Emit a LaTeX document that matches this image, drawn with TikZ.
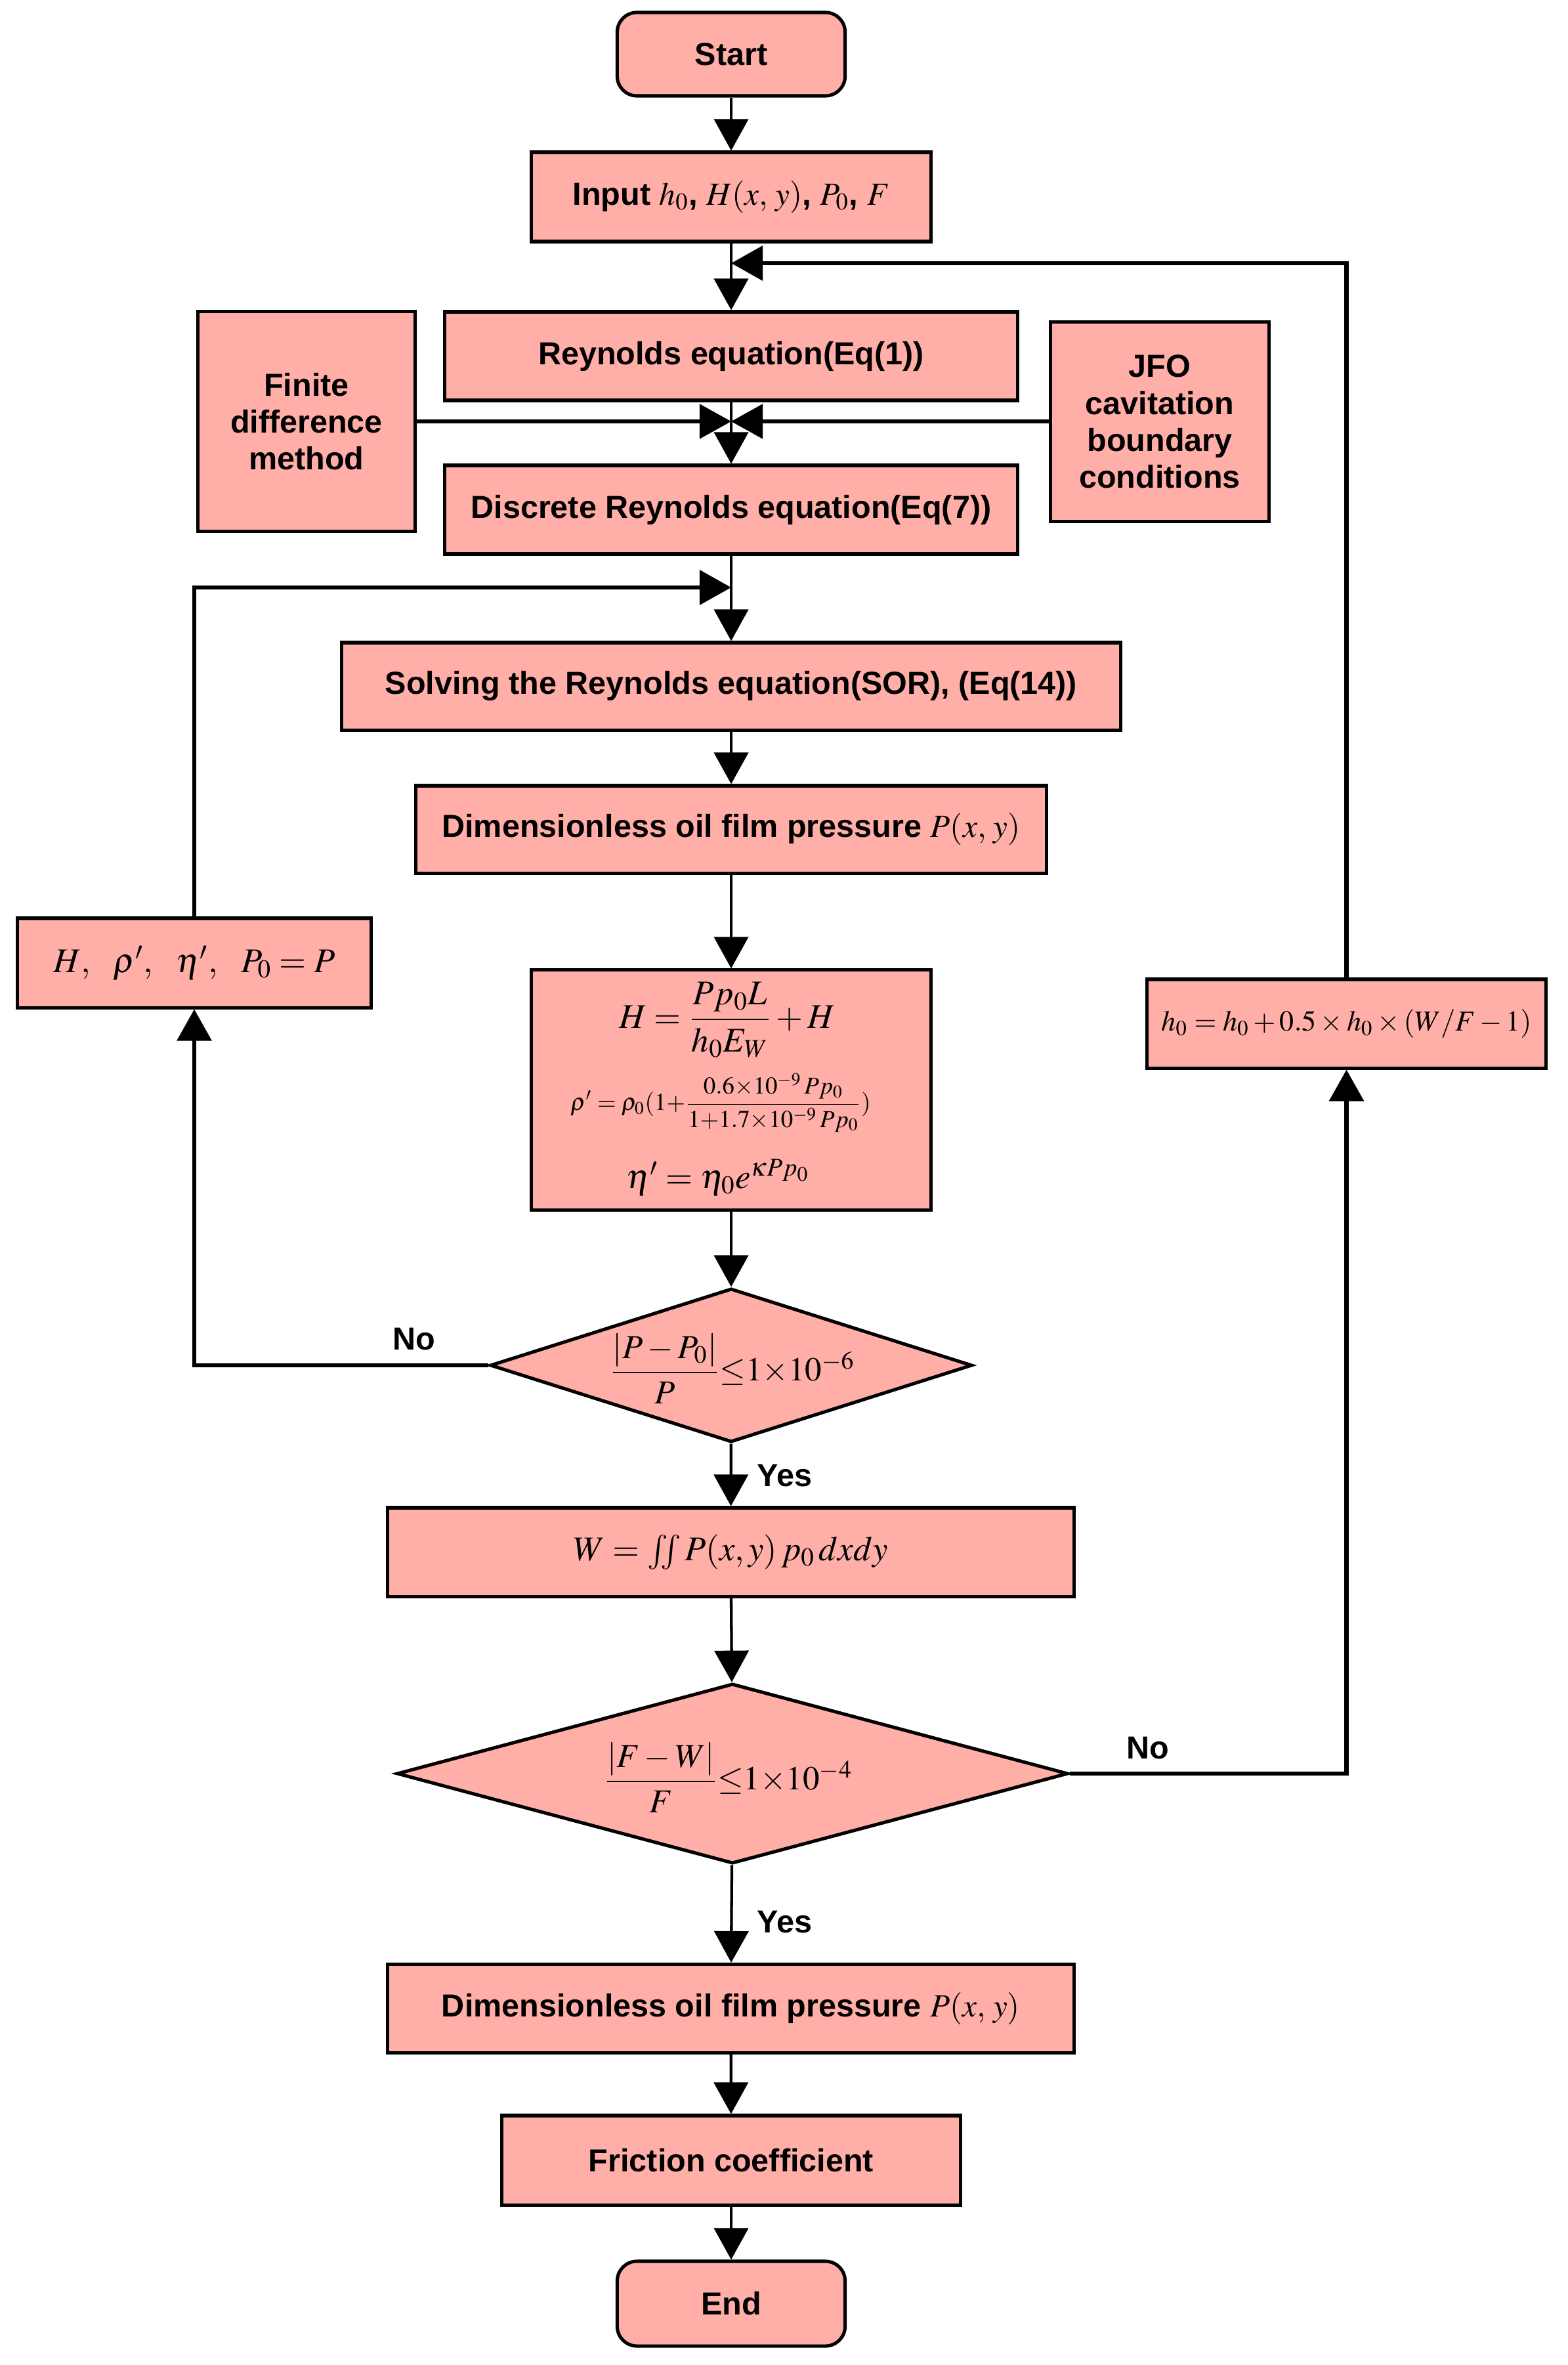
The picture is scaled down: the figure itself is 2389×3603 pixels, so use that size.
\documentclass[tikz,border=0pt]{standalone}
\usepackage{amsmath}
\usepackage{mathptmx}
\usepackage[no-math]{fontspec}
\setmainfont{Liberation Sans}
\usetikzlibrary{arrows.meta,shapes.geometric}
\definecolor{boxpink}{RGB}{255,175,168}
\newcommand\txtfont{\fontsize{13.8}{16}\selectfont\bfseries}
\newcommand\mfont{\fontsize{14}{17}\selectfont}
\begin{document}
\begin{tikzpicture}[x=0.01cm,y=-0.01cm,
  box/.style={draw=black, fill=boxpink, line width=1.45pt, inner sep=0pt, align=center, font=\txtfont},
  term/.style={box, rounded corners=0.3cm},
  dec/.style={box, diamond, inner sep=0pt},
  plain/.style={inner sep=0pt, align=center},
  lbl/.style={inner sep=0pt, font=\txtfont},
  tip/.style={-{Triangle[length=0.48cm,width=0.52cm]}},
  conn/.style={line width=1.22pt, tip},
  side/.style={line width=1.45pt, tip},
  fb/.style={line width=1.9pt, tip}]
\useasboundingbox (0,0) rectangle (2389,3603);

% main column
\node[term, minimum width=3.47cm, minimum height=1.27cm] (start) at (1114,82.5) {Start};
\node[box, minimum width=6.09cm, minimum height=1.36cm] (input) at (1114,300) {Input {\mfont$h_0$, $H(x,\,y)$, $P_0$, $F$}};
\node[box, minimum width=8.72cm, minimum height=1.35cm] (reyn) at (1114,542.5) {Reynolds equation(Eq(1))};
\node[box, minimum width=3.30cm, minimum height=3.34cm] (fdm) at (467,642) {Finite\\difference\\method};
\node[box, minimum width=3.32cm, minimum height=3.03cm] (jfo) at (1767,642.5) {JFO\\cavitation\\boundary\\conditions};
\node[box, minimum width=8.72cm, minimum height=1.35cm] (disc) at (1114,776.5) {Discrete Reynolds equation(Eq(7))};
\node[box, minimum width=11.86cm, minimum height=1.33cm] (solve) at (1114,1045.5) {Solving the Reynolds equation(SOR), (Eq(14))};
\node[box, minimum width=9.60cm, minimum height=1.33cm] (dim1) at (1114,1263.5) {Dimensionless oil film pressure {\mfont$P(x,\,y)$}};
\node[box, minimum width=5.38cm, minimum height=1.36cm] (hbox) at (296,1467) {\fontsize{15}{18}\selectfont$H,\ \ \rho',\ \ \eta',\ \ P_0=P$};
\node[box, minimum width=6.09cm, minimum height=3.65cm] (form) at (1114,1660.5) {};
\node[plain] (f1) at (1108,1554) {\fontsize{15}{18}\selectfont$\displaystyle H=\frac{Pp_0L}{h_0E_W}+H$};
\node[plain] (f2) at (1098,1680) {\fontsize{10.5}{13}\selectfont$\displaystyle \rho'=\rho_0(1{+}\frac{0.6{\times}10^{-9}\,Pp_0}{1{+}1.7{\times}10^{-9}\,Pp_0})$};
\node[plain] (f3) at (1094,1794) {\fontsize{15}{18}\selectfont$\eta'=\eta_0e^{\kappa Pp_0}$};
\node[box, minimum width=6.07cm, minimum height=1.35cm] (h0box) at (2051.5,1559.5) {\fontsize{12.5}{15}\selectfont$h_0=h_0+0.5\times h_0\times(W/F-1)$};
\node[dec, minimum width=7.34cm, minimum height=2.34cm] (d1) at (1114,2080) {};
\node[plain] (d1t) at (1116,2085) {\fontsize{14.5}{17}\selectfont$\dfrac{|P-P_0|}{P}{\leq}1{\times}10^{-6}$};
\node[box, minimum width=10.45cm, minimum height=1.35cm] (W) at (1113.5,2364.5) {\fontsize{15}{18}\selectfont$W=\iint P(x,y)\,p_0\,dxdy$};
\node[dec, minimum width=10.22cm, minimum height=2.74cm] (d2) at (1116,2702) {};
\node[plain] (d2t) at (1110,2708) {\fontsize{14.5}{17}\selectfont$\dfrac{\left|F-W\right|}{F}{\leq}1{\times}10^{-4}$};
\node[box, minimum width=10.45cm, minimum height=1.35cm] (dim2) at (1113.5,3060) {Dimensionless oil film pressure {\mfont$P(x,\,y)$}};
\node[box, minimum width=6.98cm, minimum height=1.36cm] (fric) at (1114,3291) {Friction coefficient};
\node[term, minimum width=3.47cm, minimum height=1.29cm] (end) at (1114,3509.5) {End};

% labels
\node[lbl] (no1) at (631,2040) {No};
\node[lbl, anchor=west] (yes1) at (1153,2248) {Yes};
\node[lbl] (no2) at (1749,2663) {No};
\node[lbl, anchor=west] (yes2) at (1153,2928) {Yes};

% coordinates for joins
\coordinate (rf) at (1114,401);
\coordinate (lf) at (1114,895);
\coordinate (mid) at (1114,642);

% main connectors
\draw[conn] (start) -- (input);
\draw[conn] (input) -- (reyn);
\draw[conn] (reyn) -- (disc);
\draw[conn] (disc) -- (solve);
\draw[conn] (solve) -- (dim1);
\draw[conn] (dim1) -- (form);
\draw[conn] (form) -- (d1);
\draw[conn] (d1) -- (W);
\draw[conn] (W) -- (d2);
\draw[conn] (d2) -- (dim2);
\draw[conn] (dim2) -- (fric);
\draw[conn] (fric) -- (end);

% side inputs
\draw[side] (fdm.east |- mid) -- (mid);
\draw[side] (jfo.west |- mid) -- (mid);

% feedback loops
\draw[fb] (h0box.north) |- (rf);
\draw[fb] (hbox.north) |- (lf);
\draw[fb] (d1.west) -| (hbox.south);
\draw[fb] (d2.east) -| (h0box.south);
\end{tikzpicture}
\end{document}
